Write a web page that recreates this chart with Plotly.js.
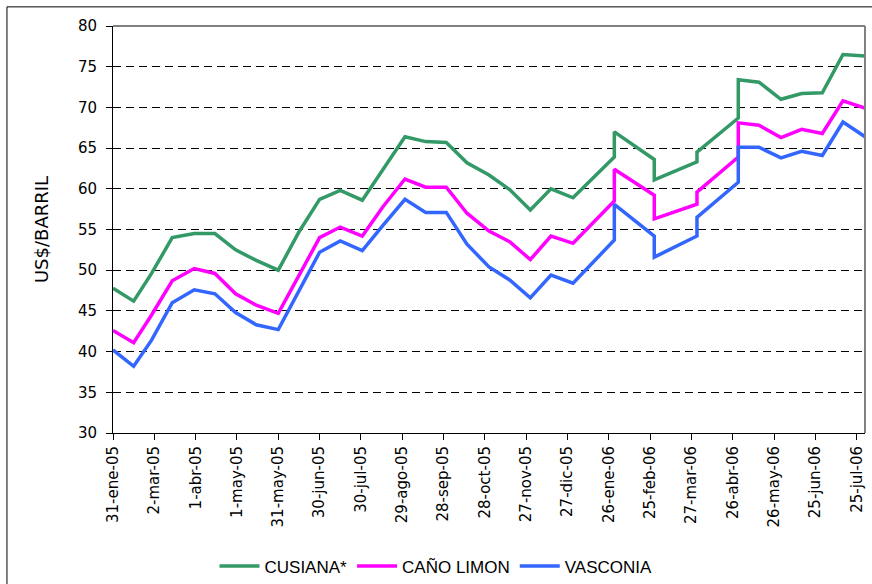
<!DOCTYPE html>
<html>
<head>
<meta charset="utf-8">
<script src="https://cdn.plot.ly/plotly-3.0.1.min.js"></script>
<style>
  body { margin: 0; background: #fff; }
  #chart { width: 872px; height: 584px; }
</style>
</head>
<body>
<div id="chart"></div>
<script>
// fechas de las observaciones (quincenales, con doble valor a fin de mes en 2006)
var fechas = [
  '2005-01-31', '2005-02-15', '2005-02-28', '2005-03-15', '2005-03-31',
  '2005-04-15', '2005-04-30', '2005-05-15', '2005-05-31', '2005-06-15',
  '2005-06-30', '2005-07-15', '2005-07-31', '2005-08-15', '2005-08-31',
  '2005-09-15', '2005-09-30', '2005-10-15', '2005-10-31', '2005-11-15',
  '2005-11-30', '2005-12-15', '2005-12-31', '2006-01-30', '2006-01-30',
  '2006-02-28', '2006-02-28', '2006-03-31', '2006-03-31', '2006-04-30',
  '2006-04-30', '2006-05-15', '2006-05-31', '2006-06-15', '2006-06-30',
  '2006-07-15', '2006-07-31'
];

var cusiana = [
  47.8, 46.2, 49.6, 54.0, 54.5, 54.5, 52.5, 51.2, 50.0, 54.7,
  58.7, 59.8, 58.6, 62.3, 66.4, 65.8, 65.7, 63.2, 61.7, 59.9,
  57.4, 60.0, 58.9, 63.9, 67.0, 63.6, 61.1, 63.3, 64.5, 68.7,
  73.4, 73.1, 71.0, 71.7, 71.8, 76.5, 76.3
];

var canoLimon = [
  42.6, 41.1, 44.5, 48.7, 50.2, 49.6, 47.1, 45.7, 44.7, 49.4,
  54.0, 55.3, 54.2, 57.8, 61.2, 60.2, 60.2, 57.0, 54.8, 53.5,
  51.3, 54.2, 53.3, 58.5, 62.4, 59.2, 56.3, 58.1, 59.6, 63.9,
  68.1, 67.8, 66.3, 67.3, 66.8, 70.8, 69.9
];

var vasconia = [
  40.2, 38.2, 41.4, 46.0, 47.6, 47.1, 44.8, 43.3, 42.7, 47.5,
  52.2, 53.6, 52.4, 55.5, 58.7, 57.1, 57.1, 53.2, 50.4, 48.8,
  46.6, 49.4, 48.4, 53.7, 58.1, 54.2, 51.6, 54.2, 56.5, 60.8,
  65.1, 65.1, 63.8, 64.6, 64.1, 68.2, 66.4
];

// marcas del eje x cada 30 dias
var tickFechas = [
  '2005-01-31', '2005-03-02', '2005-04-01', '2005-05-01', '2005-05-31',
  '2005-06-30', '2005-07-30', '2005-08-29', '2005-09-28', '2005-10-28',
  '2005-11-27', '2005-12-27', '2006-01-26', '2006-02-25', '2006-03-27',
  '2006-04-26', '2006-05-26', '2006-06-25', '2006-07-25'
];
var tickTextos = [
  '31-ene-05', '2-mar-05', '1-abr-05', '1-may-05', '31-may-05',
  '30-jun-05', '30-jul-05', '29-ago-05', '28-sep-05', '28-oct-05',
  '27-nov-05', '27-dic-05', '26-ene-06', '25-feb-06', '27-mar-06',
  '26-abr-06', '26-may-06', '25-jun-06', '25-jul-06'
];

var font = 'DejaVu Sans, Liberation Sans, sans-serif';

var traces = [
  { name: 'CUSIANA*', y: cusiana, color: '#339966' },
  { name: 'CAÑO LIMON', y: canoLimon, color: '#FF00FF' },
  { name: 'VASCONIA', y: vasconia, color: '#3366FF' }
].map(function (s) {
  return {
    type: 'scatter',
    mode: 'lines',
    x: fechas,
    y: s.y,
    name: s.name,
    line: { color: s.color, width: 3.5 },
    hoverinfo: 'x+y+name'
  };
});

var layout = {
  width: 872,
  height: 584,
  margin: { l: 113, r: 7, t: 26, b: 151 },
  paper_bgcolor: '#fff',
  plot_bgcolor: '#fff',
  showlegend: true,
  xaxis: {
    type: 'date',
    range: ['2005-01-31', '2006-07-31'],
    tickmode: 'array',
    tickvals: tickFechas,
    ticktext: tickTextos,
    tickangle: -90,
    ticks: 'outside',
    ticklen: 6,
    tickcolor: '#000',
    showline: true,
    linecolor: '#000',
    linewidth: 1,
    showgrid: false,
    zeroline: false,
    tickfont: { family: font, size: 15, color: '#000' }
  },
  yaxis: {
    range: [30, 80],
    dtick: 5,
    ticks: 'outside',
    ticklen: 6,
    tickcolor: '#000',
    showline: true,
    linecolor: '#000',
    linewidth: 1,
    showgrid: true,
    gridcolor: '#000',
    gridwidth: 1,
    griddash: '8px,5px',
    zeroline: false,
    ticklabelstandoff: 6,
    tickfont: { family: font, size: 15, color: '#000' },
    title: {
      text: 'US$/BARRIL',
      font: { family: font, size: 18, color: '#000' },
      standoff: 24
    }
  },
  legend: {
    orientation: 'h',
    xref: 'container',
    yref: 'container',
    x: 0.5,
    xanchor: 'center',
    y: 0.03,
    yanchor: 'middle',
    font: { family: 'Liberation Sans Narrow, Arial Narrow, Liberation Sans, sans-serif', size: 17, color: '#000' },
    itemwidth: 40
  },
  shapes: [
    // borde gris superior y derecho del area de trazado
    { type: 'line', xref: 'paper', yref: 'paper', x0: 0, x1: 1, y0: 1, y1: 1,
      line: { color: '#808080', width: 2 } },
    { type: 'line', xref: 'paper', yref: 'paper', x0: 1, x1: 1, y0: 0, y1: 1,
      line: { color: '#808080', width: 2 } },
    // marco exterior del grafico
    { type: 'rect', xref: 'paper', yref: 'paper', x0: -0.141, x1: 1.2, y0: -0.5, y1: 1.047,
      line: { color: '#000', width: 1 }, fillcolor: 'rgba(0,0,0,0)' }
  ]
};

Plotly.newPlot('chart', traces, layout, { displayModeBar: false, staticPlot: true });
</script>
</body>
</html>
